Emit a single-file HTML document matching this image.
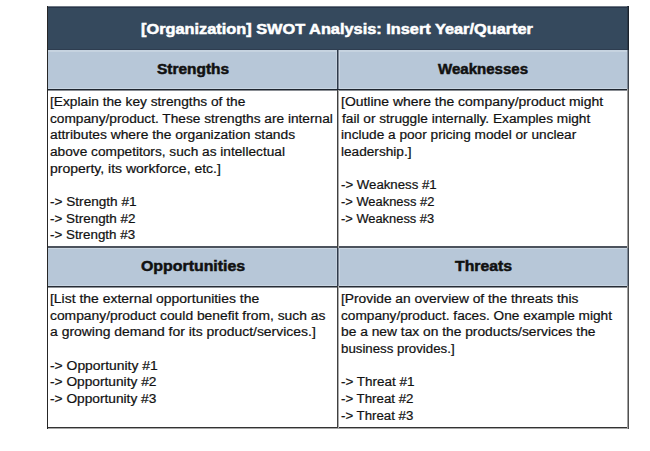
<!DOCTYPE html>
<html><head><meta charset="utf-8">
<style>
html,body{margin:0;padding:0;background:#fff;width:650px;height:451px;overflow:hidden;position:relative;font-family:"Liberation Sans",sans-serif;}
.b{position:absolute;background:#1e1e1e;}
.f{position:absolute;}
.L{position:absolute;white-space:pre;transform-origin:0 0;}
</style></head><body>
<div class="f" style="left:47px;top:6px;width:582px;height:44px;background:#35495d"></div>
<div class="f" style="left:47px;top:50px;width:582px;height:39px;background:#b7c7d8"></div>
<div class="f" style="left:47px;top:248px;width:582px;height:38px;background:#b7c7d8"></div>
<div class="b" style="left:47px;top:6px;width:582px;height:1px;background:#6d7884"></div>
<div class="b" style="left:47px;top:7px;width:582px;height:1px;background:#28354a"></div>
<div class="b" style="left:47px;top:49px;width:582px;height:1px;background:#2e3d50"></div>
<div class="b" style="left:47px;top:50px;width:582px;height:2px;background:#c6d3e0"></div>
<div class="b" style="left:47px;top:88px;width:582px;height:1px;background:#c8d5e2"></div>
<div class="b" style="left:47px;top:89px;width:582px;height:1px;background:#1f2630"></div>
<div class="b" style="left:47px;top:90px;width:582px;height:1px;background:#8a8e94"></div>
<div class="b" style="left:47px;top:246px;width:582px;height:2px;background:#4c535d"></div>
<div class="b" style="left:47px;top:248px;width:582px;height:1px;background:#cbd7e3"></div>
<div class="b" style="left:47px;top:285px;width:582px;height:1px;background:#c8d5e2"></div>
<div class="b" style="left:47px;top:286px;width:582px;height:1px;background:#262c35"></div>
<div class="b" style="left:47px;top:287px;width:582px;height:1px;background:#8d9196"></div>
<div class="b" style="left:47px;top:427px;width:582px;height:1px;background:#333"></div>
<div class="b" style="left:47px;top:428px;width:582px;height:1px;background:#a8a8a8"></div>
<div class="b" style="left:47px;top:6px;width:1px;height:423px;background:#262626"></div>
<div class="b" style="left:627px;top:6px;width:1px;height:44px;background:#2a3848"></div>
<div class="b" style="left:628px;top:6px;width:1px;height:44px;background:#1c232c"></div>
<div class="b" style="left:627px;top:50px;width:1px;height:39px;background:#7d8896"></div>
<div class="b" style="left:628px;top:50px;width:1px;height:39px;background:#3a424c"></div>
<div class="b" style="left:627px;top:89px;width:1px;height:159px;background:#a0a0a0"></div>
<div class="b" style="left:628px;top:89px;width:1px;height:159px;background:#505050"></div>
<div class="b" style="left:627px;top:248px;width:1px;height:38px;background:#7d8896"></div>
<div class="b" style="left:628px;top:248px;width:1px;height:38px;background:#3a424c"></div>
<div class="b" style="left:627px;top:286px;width:1px;height:143px;background:#a0a0a0"></div>
<div class="b" style="left:628px;top:286px;width:1px;height:143px;background:#505050"></div>
<div class="b" style="left:337px;top:90px;width:1px;height:338px;background:#404040"></div>
<div class="b" style="left:338px;top:90px;width:1px;height:338px;background:#acacac"></div>
<div class="b" style="left:336px;top:50px;width:1px;height:39px;background:#c6d2df"></div>
<div class="b" style="left:337px;top:50px;width:1px;height:39px;background:#2f3a4a"></div>
<div class="b" style="left:338px;top:50px;width:1px;height:39px;background:#7d8896"></div>
<div class="b" style="left:339px;top:50px;width:1px;height:39px;background:#cbd6e3"></div>
<div class="b" style="left:336px;top:248px;width:1px;height:38px;background:#c6d2df"></div>
<div class="b" style="left:337px;top:248px;width:1px;height:38px;background:#2f3a4a"></div>
<div class="b" style="left:338px;top:248px;width:1px;height:38px;background:#7d8896"></div>
<div class="b" style="left:339px;top:248px;width:1px;height:38px;background:#cbd6e3"></div>
<div class="L" style="left:50.40px;top:96px;font-size:12px;line-height:12px;font-weight:normal;color:#111;transform:scaleX(1.1436);-webkit-text-stroke:0.2px #111;">[Explain the key strengths of the</div>
<div class="L" style="left:50.40px;top:113px;font-size:12px;line-height:12px;font-weight:normal;color:#111;transform:scaleX(1.1407);-webkit-text-stroke:0.2px #111;">company/product. These strengths are internal</div>
<div class="L" style="left:50.40px;top:129px;font-size:12px;line-height:12px;font-weight:normal;color:#111;transform:scaleX(1.1519);-webkit-text-stroke:0.2px #111;">attributes where the organization stands</div>
<div class="L" style="left:50.40px;top:146px;font-size:12px;line-height:12px;font-weight:normal;color:#111;transform:scaleX(1.1399);-webkit-text-stroke:0.2px #111;">above competitors, such as intellectual</div>
<div class="L" style="left:50.40px;top:163px;font-size:12px;line-height:12px;font-weight:normal;color:#111;transform:scaleX(1.1663);-webkit-text-stroke:0.2px #111;">property, its workforce, etc.]</div>
<div class="L" style="left:50.40px;top:196px;font-size:12px;line-height:12px;font-weight:normal;color:#111;transform:scaleX(1.1334);-webkit-text-stroke:0.2px #111;">-&gt; Strength #1</div>
<div class="L" style="left:50.40px;top:213px;font-size:12px;line-height:12px;font-weight:normal;color:#111;transform:scaleX(1.1189);-webkit-text-stroke:0.2px #111;">-&gt; Strength #2</div>
<div class="L" style="left:50.40px;top:229px;font-size:12px;line-height:12px;font-weight:normal;color:#111;transform:scaleX(1.1140);-webkit-text-stroke:0.2px #111;">-&gt; Strength #3</div>
<div class="L" style="left:341.40px;top:96px;font-size:12px;line-height:12px;font-weight:normal;color:#111;transform:scaleX(1.1626);-webkit-text-stroke:0.2px #111;">[Outline where the company/product might</div>
<div class="L" style="left:342.40px;top:113px;font-size:12px;line-height:12px;font-weight:normal;color:#111;transform:scaleX(1.1393);-webkit-text-stroke:0.2px #111;">fail or struggle internally. Examples might</div>
<div class="L" style="left:341.40px;top:129px;font-size:12px;line-height:12px;font-weight:normal;color:#111;transform:scaleX(1.1376);-webkit-text-stroke:0.2px #111;">include a poor pricing model or unclear</div>
<div class="L" style="left:341.40px;top:146px;font-size:12px;line-height:12px;font-weight:normal;color:#111;transform:scaleX(1.1366);-webkit-text-stroke:0.2px #111;">leadership.]</div>
<div class="L" style="left:341.40px;top:179px;font-size:12px;line-height:12px;font-weight:normal;color:#111;transform:scaleX(1.1018);-webkit-text-stroke:0.2px #111;">-&gt; Weakness #1</div>
<div class="L" style="left:341.40px;top:196px;font-size:12px;line-height:12px;font-weight:normal;color:#111;transform:scaleX(1.0746);-webkit-text-stroke:0.2px #111;">-&gt; Weakness #2</div>
<div class="L" style="left:341.40px;top:213px;font-size:12px;line-height:12px;font-weight:normal;color:#111;transform:scaleX(1.0729);-webkit-text-stroke:0.2px #111;">-&gt; Weakness #3</div>
<div class="L" style="left:50.40px;top:293px;font-size:12px;line-height:12px;font-weight:normal;color:#111;transform:scaleX(1.1613);-webkit-text-stroke:0.2px #111;">[List the external opportunities the</div>
<div class="L" style="left:50.40px;top:310px;font-size:12px;line-height:12px;font-weight:normal;color:#111;transform:scaleX(1.1532);-webkit-text-stroke:0.2px #111;">company/product could benefit from, such as</div>
<div class="L" style="left:50.40px;top:326px;font-size:12px;line-height:12px;font-weight:normal;color:#111;transform:scaleX(1.1617);-webkit-text-stroke:0.2px #111;">a growing demand for its product/services.]</div>
<div class="L" style="left:50.40px;top:360px;font-size:12px;line-height:12px;font-weight:normal;color:#111;transform:scaleX(1.1571);-webkit-text-stroke:0.2px #111;">-&gt; Opportunity #1</div>
<div class="L" style="left:50.40px;top:376px;font-size:12px;line-height:12px;font-weight:normal;color:#111;transform:scaleX(1.1437);-webkit-text-stroke:0.2px #111;">-&gt; Opportunity #2</div>
<div class="L" style="left:50.40px;top:393px;font-size:12px;line-height:12px;font-weight:normal;color:#111;transform:scaleX(1.1423);-webkit-text-stroke:0.2px #111;">-&gt; Opportunity #3</div>
<div class="L" style="left:341.40px;top:293px;font-size:12px;line-height:12px;font-weight:normal;color:#111;transform:scaleX(1.1481);-webkit-text-stroke:0.2px #111;">[Provide an overview of the threats this</div>
<div class="L" style="left:341.40px;top:310px;font-size:12px;line-height:12px;font-weight:normal;color:#111;transform:scaleX(1.1379);-webkit-text-stroke:0.2px #111;">company/product. faces. One example might</div>
<div class="L" style="left:341.40px;top:326px;font-size:12px;line-height:12px;font-weight:normal;color:#111;transform:scaleX(1.1491);-webkit-text-stroke:0.2px #111;">be a new tax on the products/services the</div>
<div class="L" style="left:341.40px;top:343px;font-size:12px;line-height:12px;font-weight:normal;color:#111;transform:scaleX(1.1056);-webkit-text-stroke:0.2px #111;">business provides.]</div>
<div class="L" style="left:341.40px;top:376px;font-size:12px;line-height:12px;font-weight:normal;color:#111;transform:scaleX(1.1207);-webkit-text-stroke:0.2px #111;">-&gt; Threat #1</div>
<div class="L" style="left:341.40px;top:393px;font-size:12px;line-height:12px;font-weight:normal;color:#111;transform:scaleX(1.1059);-webkit-text-stroke:0.2px #111;">-&gt; Threat #2</div>
<div class="L" style="left:341.40px;top:410px;font-size:12px;line-height:12px;font-weight:normal;color:#111;transform:scaleX(1.1032);-webkit-text-stroke:0.2px #111;">-&gt; Threat #3</div>
<div class="L" style="left:141.00px;top:22px;font-size:14.5px;line-height:14.5px;font-weight:bold;color:#fff;transform:scaleX(1.1260);-webkit-text-stroke:0.5px #fff;">[Organization] SWOT Analysis: Insert Year/Quarter</div>
<div class="L" style="left:157.20px;top:62px;font-size:14.5px;line-height:14.5px;font-weight:bold;color:#111;transform:scaleX(1.0651);-webkit-text-stroke:0.5px #111;">Strengths</div>
<div class="L" style="left:438.00px;top:62px;font-size:14.5px;line-height:14.5px;font-weight:bold;color:#111;transform:scaleX(1.0368);-webkit-text-stroke:0.5px #111;">Weaknesses</div>
<div class="L" style="left:141.40px;top:259px;font-size:14.5px;line-height:14.5px;font-weight:bold;color:#111;transform:scaleX(1.0959);-webkit-text-stroke:0.5px #111;">Opportunities</div>
<div class="L" style="left:455.00px;top:259px;font-size:14.5px;line-height:14.5px;font-weight:bold;color:#111;transform:scaleX(1.0879);-webkit-text-stroke:0.5px #111;">Threats</div>
</body></html>
